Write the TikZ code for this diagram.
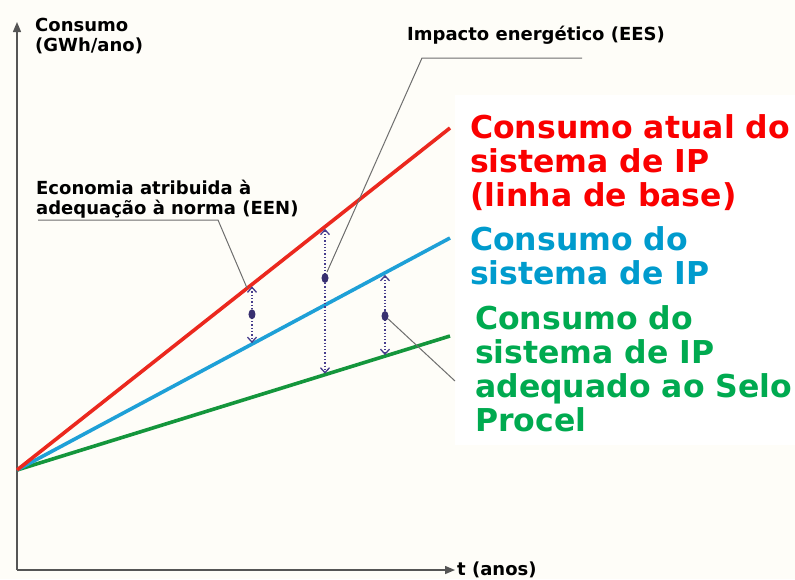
\documentclass[tikz,border=0pt]{standalone}
\usepackage{fontspec}
\setmainfont{DejaVu Sans}
\usetikzlibrary{arrows.meta,calc,shapes.geometric}
\definecolor{redl}{RGB}{235,40,30}
\definecolor{bluel}{RGB}{30,160,215}
\definecolor{greenl}{RGB}{20,150,60}
\definecolor{redt}{RGB}{250,0,0}
\definecolor{bluet}{RGB}{0,155,205}
\definecolor{greent}{RGB}{0,170,80}
\definecolor{axisc}{RGB}{85,85,85}
\definecolor{dotc}{RGB}{70,60,140}
\definecolor{bgc}{RGB}{254,253,248}
\tikzset{
  axisline/.style={draw=axisc,line width=1.4pt,-{Triangle[length=10pt,width=8pt]}},
  cline/.style={line width=3.6pt},
  leader/.style={draw=axisc!85,line width=1pt},
  dimarrow/.style={draw=dotc,line width=1.3pt,dotted,{Straight Barb[length=5pt,width=9pt]}-{Straight Barb[length=5pt,width=9pt]}},
  dotmark/.style={ellipse,fill=dotc!80!black,draw=none,minimum width=7pt,minimum height=10pt,inner sep=0pt},
  smalltxt/.style={font=\fontsize{18}{20}\selectfont\bfseries,inner sep=0pt,align=left},
  bigtxt/.style={font=\fontsize{31.5}{34}\selectfont\bfseries,inner sep=0pt,align=left}
}
\begin{document}
\begin{tikzpicture}[x=1pt,y=-1pt]
\useasboundingbox (0,0) rectangle (795,579);
\fill[bgc] (0,0) rectangle (795,579);
\fill[white] (455,95) rectangle (795,445);
% axes
\coordinate (O0) at (17,570);
\coordinate (Ytop) at (17,22);
\coordinate (Xend) at (455,570);
\draw[axisline] (O0) -- (Ytop);
\draw[axisline] (O0) -- (Xend);
\node[smalltxt,anchor=north west] (ylab) at (35,18) {Consumo\\(GWh/ano)};
\node[smalltxt,anchor=base west] (xlab) at (457,575) {t (anos)};
% consumption lines
\coordinate (O) at (17,470);
\coordinate (R) at (450,128);
\coordinate (B) at (450,238);
\coordinate (G) at (450,336);
\draw[cline,greenl] (O) -- (G);
\draw[cline,bluel] (O) -- (B);
\draw[cline,redl] (O) -- (R);
% points on lines
\coordinate (r1) at ($(O)!0.5427!(R)$);
\coordinate (b1) at ($(O)!0.5427!(B)$);
\coordinate (r2) at ($(O)!0.7113!(R)$);
\coordinate (g2) at ($(O)!0.7113!(G)$);
\coordinate (b3) at ($(O)!0.8499!(B)$);
\coordinate (g3) at ($(O)!0.8499!(G)$);
% leader lines
\coordinate (een1) at (38,220);
\coordinate (een2) at (218,220);
\coordinate (een3) at (247,288);
\draw[leader] (een1) -- (een2) -- (een3);
\coordinate (ees1) at (582,58);
\coordinate (ees2) at (422,58);
\coordinate (ees3) at (327,272);
\draw[leader] (ees1) -- (ees2) -- (ees3);
\coordinate (gl1) at (455,381);
% dimension arrows
\draw[dimarrow] ($(r1)+(0,2)$) -- ($(b1)+(0,-1)$);
\draw[dimarrow] ($(r2)+(0,2)$) -- ($(g2)+(0,-1)$);
\draw[dimarrow] ($(b3)+(0,2)$) -- ($(g3)+(0,-1)$);
\node[dotmark] (d1) at ($(r1)!0.5!(b1)$) {};
\node[dotmark] (d2) at (325,278) {};
\node[dotmark] (d3) at (385,316) {};
\draw[leader] (d3) -- (gl1);
% texts
\node[smalltxt,anchor=base west] (ees) at (407,40) {Impacto energético (EES)};
\node[smalltxt,anchor=north west] (een) at (36,180) {Economia atribuida à\\adequação à norma (EEN)};
\node[bigtxt,anchor=north west,text=redt] (lr) at (470,114) {Consumo atual do\\sistema de IP\\(linha de base)};
\node[bigtxt,anchor=north west,text=bluet] (lb) at (470,226) {Consumo do\\sistema de IP};
\node[bigtxt,anchor=north west,text=greent] (lg) at (475,305) {Consumo do\\sistema de IP\\adequado ao Selo\\Procel};
\end{tikzpicture}
\end{document}
